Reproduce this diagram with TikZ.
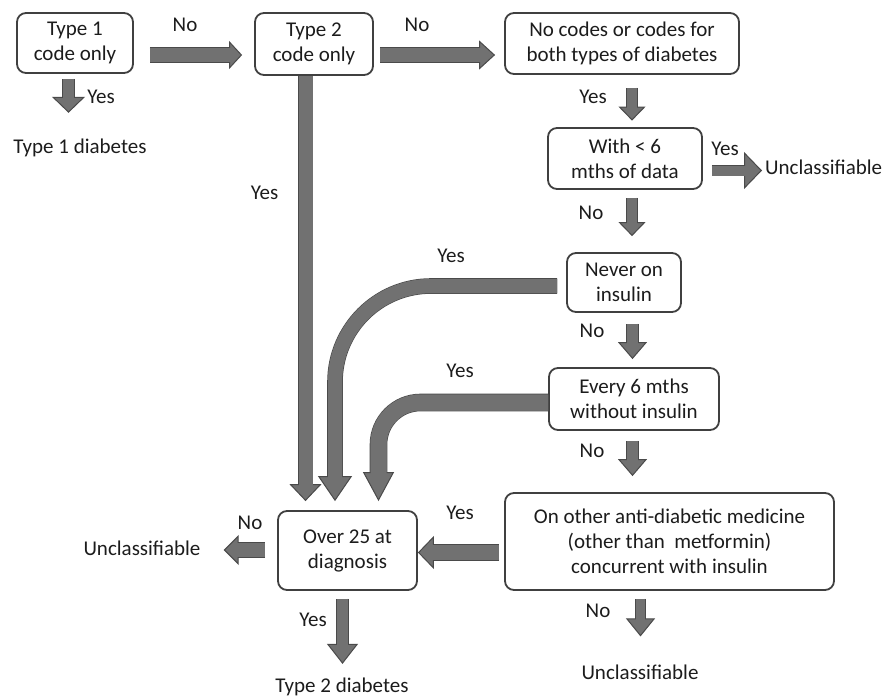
\documentclass[tikz,border=0pt]{standalone}
\usepackage{fontspec}
\setmainfont{Carlito}
\usetikzlibrary{arrows.meta}
\definecolor{arrfill}{HTML}{717171}
\definecolor{arrline}{HTML}{4A4A4A}
\definecolor{boxline}{HTML}{404040}
\definecolor{txt}{HTML}{1C1C1C}
\begin{document}
\begin{tikzpicture}[x=1pt,y=-1pt,
  every node/.style={font=\fontsize{21}{25}\selectfont, text=txt, inner sep=0pt},
  box/.style={draw=boxline, line width=1.8pt, rounded corners=9pt, fill=white, align=center},
  fat/.style n args={3}{draw=arrfill, line width=#1,
    arrows={-{Triangle[length=#3,width=#2,line width=1pt,color=arrline,fill=arrfill]}},
    preaction={draw=arrline, line width=#1+1.6pt, arrows=-, shorten >=#3-0.6pt},
    postaction={draw=arrfill, line width=#1, arrows=-, shorten >=#3-2pt}}
]
\useasboundingbox (0,0) rectangle (886,699);

% boxes
\node[box, minimum width=116pt, minimum height=60pt] (t1) at (75,43) {Type 1\\code only};
\node[box, minimum width=118pt, minimum height=62pt] (t2) at (314,44) {Type 2\\code only};
\node[box, minimum width=234pt, minimum height=61pt] (nc) at (622,43.5) {No codes or codes for\\both types of diabetes};
\node[box, minimum width=154pt, minimum height=61pt] (w6) at (625,158.5) {With < 6\\mths of data};
\node[box, minimum width=114pt, minimum height=59pt] (nv) at (624,282.5) {Never on\\insulin};
\node[box, minimum width=170pt, minimum height=62pt] (ev) at (634,399) {Every 6 mths\\without insulin};
\node[box, minimum width=329pt, minimum height=97pt] (oo) at (669.5,541.5) {On other anti-diabetic medicine\\(other than\ \ metformin)\\concurrent with insulin};
\node[box, minimum width=139pt, minimum height=79pt] (ov) at (347.5,550.5) {Over 25 at\\diagnosis};

% outcome texts
\node (d1) at (80,148) {Type 1 diabetes};
\node[anchor=west] (u1) at (765,167) {Unclassifiable};
\node (u2) at (142,548) {Unclassifiable};
\node (d2) at (342,686.5) {Type 2 diabetes};
\node (u3) at (640,672) {Unclassifiable};

% labels
\node (l1) at (185,25) {No};
\node (l2) at (417,25) {No};
\node (l3) at (101,97) {Yes};
\node (l4) at (264.5,193) {Yes};
\node (l5) at (593,97) {Yes};
\node (l6) at (725,149) {Yes};
\node (l7) at (591,213) {No};
\node (l8) at (451,256) {Yes};
\node (l9) at (592,331) {No};
\node (l10) at (460,371) {Yes};
\node (l11) at (592,451) {No};
\node (l12) at (460,513) {Yes};
\node (l13) at (250,523) {No};
\node (l14) at (313,620) {Yes};
\node (l15) at (598,611) {No};

% arrows
\draw[fat={11pt}{33pt}{16pt}] ([shift={(-6.5,5)}]t1.south) -- ([shift={(-11.5,-26)}]d1.north);
\draw[fat={14pt}{28pt}{13pt}] ([shift={(16,12)}]t1.east) -- ([shift={(-12,11)}]t2.west);
\draw[fat={14pt}{29pt}{16pt}] ([shift={(6,11)}]t2.east) -- ([shift={(-9,11.5)}]nc.west);
\draw[fat={14pt}{32pt}{17pt}] ([xshift=-8.5pt]t2.south) -- ([shift={(-42,-9)}]ov.north);
\draw[fat={14pt}{34pt}{25pt}, rounded corners=96pt] ([shift={(-9,3.5)}]nv.west) -| ([shift={(-12.5,-9)}]ov.north);
\draw[fat={16pt}{31pt}{29pt}, rounded corners=42pt] ([shift={(0,3.5)}]ev.west) -| ([shift={(31,-9)}]ov.north);
\draw[fat={10pt}{27pt}{14pt}] ([shift={(10,13)}]nc.south) -- ([shift={(7,-6.5)}]w6.north);
\draw[fat={10pt}{37pt}{18pt}] ([shift={(9,12)}]w6.east) -- ([shift={(-3,3.5)}]u1.west);
\draw[fat={10pt}{27pt}{14pt}] ([shift={(7,8)}]w6.south) -- ([shift={(8,-16)}]nv.north);
\draw[fat={11pt}{29pt}{17pt}] ([shift={(8.5,11)}]nv.south) -- ([shift={(-1.5,-8)}]ev.north);
\draw[fat={11pt}{29pt}{17pt}] ([shift={(-1.5,10)}]ev.south) -- ([shift={(-37,-16)}]oo.north);
\draw[fat={15pt}{33pt}{16pt}] ([shift={(-5,11)}]oo.west) -- ([shift={(0,2)}]ov.east);
\draw[fat={14pt}{30pt}{15pt}] ([shift={(-12,-0.5)}]ov.west) -- ([shift={(23,2)}]u2.east);
\draw[fat={11pt}{31pt}{20pt}] ([shift={(-5,8)}]ov.south) -- ++(0,65);
\draw[fat={9pt}{29pt}{18pt}] ([shift={(-29,8)}]oo.south) -- ([shift={(0.5,-28)}]u3.north);
\end{tikzpicture}
\end{document}
